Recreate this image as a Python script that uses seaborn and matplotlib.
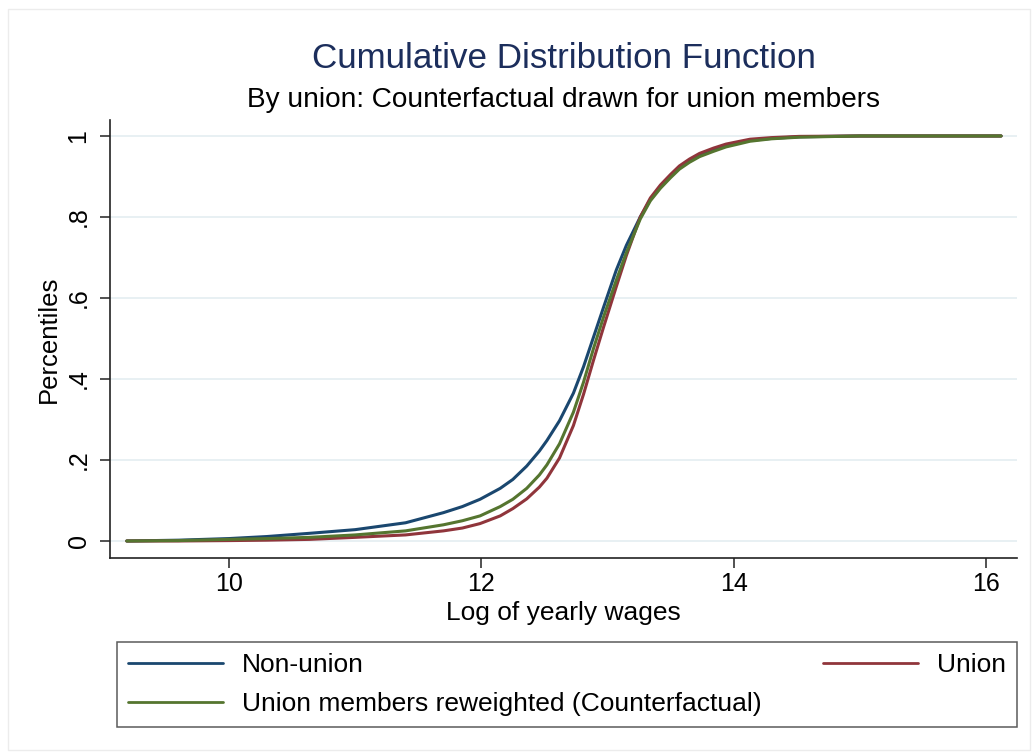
import matplotlib
matplotlib.use("Agg")
import matplotlib.pyplot as plt
from matplotlib.lines import Line2D
from matplotlib.patches import Rectangle
import pandas as pd
import seaborn as sns

# values (log wage grid shared by all curves)
log_wage = [9.19, 9.6, 10.0, 10.3, 10.64, 11.0, 11.4, 11.7, 11.85, 11.99, 12.15,
            12.25, 12.36, 12.46, 12.52, 12.62, 12.73, 12.81, 12.89, 12.97, 13.07,
            13.15, 13.26, 13.34, 13.42, 13.5, 13.57, 13.65, 13.73, 13.84, 13.94,
            14.05, 14.13, 14.3, 14.52, 15.0, 16.12]
cdf_nonunion = [0.000, 0.002, 0.006, 0.011, 0.019, 0.028, 0.045, 0.070, 0.085, 0.103,
                0.130, 0.152, 0.185, 0.222, 0.248, 0.297, 0.365, 0.430, 0.504, 0.578,
                0.669, 0.730, 0.800, 0.843, 0.874, 0.900, 0.921, 0.938, 0.951, 0.965,
                0.976, 0.984, 0.989, 0.994, 0.998, 1.000, 1.000]
cdf_union = [0.000, 0.000, 0.001, 0.002, 0.004, 0.009, 0.015, 0.025, 0.032, 0.043,
             0.062, 0.080, 0.104, 0.133, 0.155, 0.205, 0.285, 0.362, 0.447, 0.529,
             0.628, 0.705, 0.800, 0.847, 0.879, 0.905, 0.926, 0.943, 0.957, 0.970,
             0.980, 0.987, 0.992, 0.996, 0.999, 1.000, 1.000]
cdf_counterfactual = [0.000, 0.001, 0.004, 0.006, 0.009, 0.015, 0.025, 0.040, 0.050,
                      0.062, 0.085, 0.103, 0.130, 0.163, 0.188, 0.240, 0.318, 0.392,
                      0.476, 0.554, 0.644, 0.712, 0.795, 0.840, 0.871, 0.897, 0.918,
                      0.935, 0.949, 0.962, 0.973, 0.981, 0.987, 0.993, 0.997, 1.000,
                      1.000]

series_names = ["Non-union", "Union", "Union members reweighted (Counterfactual)"]
series_colors = ["#1a476f", "#90353b", "#55752f"]
y_ticks = [0, 0.2, 0.4, 0.6, 0.8, 1.0]
y_tick_labels = ["0", ".2", ".4", ".6", ".8", "1"]
x_ticks = [10, 12, 14, 16]

df = pd.concat([
    pd.DataFrame({"wage": log_wage, "cdf": vals, "group": name})
    for name, vals in zip(series_names, [cdf_nonunion, cdf_union, cdf_counterfactual])
], ignore_index=True)

sns.set_style("white")
plt.rcParams["font.family"] = ["Liberation Sans", "DejaVu Sans"]
plt.rcParams.update({"text.color": "black", "axes.labelcolor": "black",
                     "xtick.color": "black", "ytick.color": "black"})

fig = plt.figure(figsize=(10.33, 7.56), dpi=100)
fig.patch.set_facecolor("white")
fig.add_artist(Rectangle((8 / 1033, 1 - 750 / 756), 1022 / 1033, 741 / 756,
                         transform=fig.transFigure, fill=False,
                         edgecolor="#ececec", linewidth=1))

ax = fig.add_axes([0.1065, 0.2619, 0.878, 0.5794])
ax.set_facecolor("white")

for yv in y_ticks:
    ax.axhline(yv, color="#e8f0f3", linewidth=1.4, zorder=0)

sns.lineplot(data=df, x="wage", y="cdf", hue="group", hue_order=series_names,
             palette=series_colors, linewidth=2.2, estimator=None, sort=False,
             legend=False, ax=ax)

ax.set_xlim(9.057, 16.246)
ax.set_ylim(-0.042, 1.0395)
ax.set_xticks(x_ticks)
ax.set_xticklabels([str(t) for t in x_ticks], fontsize=18)
ax.set_yticks(y_ticks)
ax.set_yticklabels(y_tick_labels, rotation=90, va="center", fontsize=18)
ax.tick_params(axis="both", direction="out", length=7, width=1.1, color="#222222",
               left=True, bottom=True)
ax.tick_params(axis="x", pad=3)
ax.tick_params(axis="y", pad=7)

for side in ["top", "right"]:
    ax.spines[side].set_visible(False)
for side in ["left", "bottom"]:
    ax.spines[side].set_color("#222222")
    ax.spines[side].set_linewidth(1.2)

ax.set_xlabel("Log of yearly wages", fontsize=19, labelpad=4)
ax.set_ylabel("Percentiles", fontsize=18.5, labelpad=4)

fig.text(0.5455, 1 - 59 / 756, "Cumulative Distribution Function",
         ha="center", va="center", fontsize=25.2, color="#1c2e5c")
fig.text(0.5455, 1 - 100 / 756, "By union: Counterfactual drawn for union members",
         ha="center", va="center", fontsize=20.2, color="black")

# Stata-like legend: row 1 Non-union | Union, row 2 counterfactual
handles = {name: Line2D([], [], color=c, linewidth=2)
           for name, c in zip(series_names, series_colors)}
order = [series_names[0], series_names[2], series_names[1]]
leg = fig.legend([handles[n] for n in order], order, ncol=2, mode="expand",
                 loc="lower left",
                 bbox_to_anchor=(117 / 1033, 1 - 727 / 756, 900 / 1033, 85 / 756),
                 fontsize=19, frameon=True, fancybox=False, handlelength=3.6,
                 handletextpad=0.7, borderpad=0.42, labelspacing=0.55,
                 borderaxespad=0)
leg.get_frame().set_edgecolor("#333333")
leg.get_frame().set_linewidth(1.1)

fig.savefig("out.png", dpi=100, facecolor="white")
